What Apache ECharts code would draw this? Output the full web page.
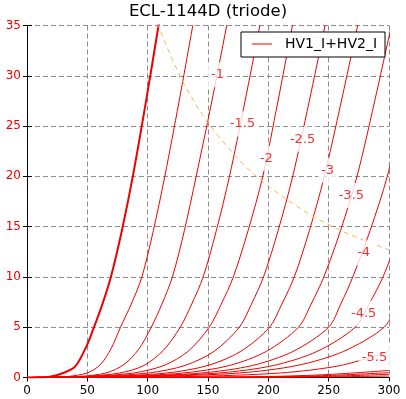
<!DOCTYPE html>
<html>
<head>
<meta charset="UTF-8">
<title>ECL-1144D (triode)</title>
<script src="https://cdn.jsdelivr.net/npm/echarts@6/dist/echarts.min.js"></script>
</head>
<body style="margin:0">
<div id="main" style="width:406px;height:399px;"></div>
<script>
// anode voltage (V), anode current (mA) for each grid voltage
var g0_0 = [[0,0],[10,0.02],[20,0.1],[30,0.45],[40,1.1],[50,3.3],[55.5,5],[62.5,7.3],[69.5,10],[78.6,14.6],[87.7,20],[98.4,27.3],[109,35],[114,38.8]];
var g0_5 = [[0,0],[20,0.03],[33.5,0.1],[50,0.45],[61,1.3],[69.8,2.9],[77.5,5],[86.4,7.3],[95.2,10],[104.7,14.6],[114.2,20],[125.8,27.3],[137.4,35],[143,38.7]];
var g1_0 = [[0,0],[20,0.03],[43,0.1],[65.5,0.45],[80.5,1.3],[92.5,2.8],[103,5],[111.8,7.3],[120.5,10],[130.4,14.6],[140.2,20],[152.9,27.3],[165.5,35],[171,38.5]];
var g1_5 = [[0,0],[20,0.02],[47,0.1],[77,0.45],[97,1.2],[113,2.7],[127,5],[136.5,7.3],[146,10],[156.9,14.6],[167.8,20],[180.4,27.3],[193,35],[199,38.5]];
var g2_0 = [[0,0],[20,0.02],[51,0.1],[88.5,0.45],[113.5,1.2],[133.5,2.6],[151,5],[161,7.3],[171,10],[183.2,14.6],[195.4,20],[207.7,27.3],[220,35],[226,38.5]];
var g2_5 = [[0,0],[20,0.03],[56,0.1],[101,0.45],[131,1.2],[155,2.6],[176,5],[186,7.3],[196,10],[208.1,14.6],[220.2,20],[233.6,27.3],[247,35],[253,38.5]];
var g3_0 = [[0,0],[30,0.04],[65,0.1],[116,0.45],[150,1.2],[177.2,2.6],[201,5],[211.2,7.3],[221.5,10],[234,14.6],[246.4,20],[260.2,27.3],[274,35],[280,38.5]];
var g3_5 = [[0,0],[30,0.04],[73,0.1],[130,0.45],[168,1.2],[198.4,2.6],[225,5],[235.5,7.3],[246,10],[259.8,14.6],[273.5,20],[287.8,27.3],[302,35]];
var g4_0 = [[0,0],[40,0.04],[82,0.1],[145,0.45],[187,1.2],[220.6,2.6],[250,5],[260,7.3],[270,10],[284.3,14.6],[298.6,20],[313,27.3]];
var g4_5 = [[0,0],[40,0.04],[92,0.1],[159.5,0.45],[204.5,1.2],[240.5,2.6],[272,5],[283.5,7.3],[295,10],[310,14.6]];
var g5_0 = [[0,0],[50,0.04],[104,0.1],[176,0.45],[224,1.2],[262.4,2.6],[296,5],[307,7.3]];
var g5_5 = [[0,0],[60,0.03],[135,0.1],[210,0.45],[260,1.2],[300,2.6]];
var g6_0 = [[0,0],[100,0.02],[150,0.04],[200,0.1],[250,0.3],[300,0.7]];
var g6_5 = [[0,0],[150,0.03],[200,0.06],[250,0.2],[300,0.48]];
var g7_0 = [[0,0],[150,0.02],[200,0.04],[250,0.12],[300,0.32]];
var g7_5 = [[0,0],[200,0.02],[250,0.06],[300,0.15]];

// max anode dissipation line
var pmaxVa = [108, 120, 130, 140, 150, 160, 170, 180, 190, 200, 220, 240, 260, 280, 300];
var pmaxIa = [35.2, 31.7, 29.2, 27.1, 25.3, 23.8, 22.4, 21.1, 20, 19, 17.3, 15.8, 14.6, 13.6, 12.7];

// inline grid voltage labels
var labelText = ['-1', '-1.5', '-2', '-2.5', '-3', '-3.5', '-4', '-4.5', '-5.5'];
var labelVa = [157.9, 178.6, 198.4, 228.4, 249, 268.8, 279, 279, 288];
var labelIa = [30.1, 25.2, 21.8, 23.7, 20.6, 18.1, 12.4, 6.4, 2.0];

var curves = [g0_0, g0_5, g1_0, g1_5, g2_0, g2_5, g3_0, g3_5, g4_0, g4_5, g5_0, g5_5, g6_0, g6_5, g7_0, g7_5];

var RED = '#ee0000';
var FONT = 'DejaVu Sans';

var series = curves.map(function (c, i) {
    return {
        name: 'HV1_I+HV2_I',
        type: 'line',
        data: c,
        showSymbol: false,
        smooth: 0.3,
        silent: true,
        itemStyle: {color: RED},
        lineStyle: {color: RED, width: i === 0 ? 2 : 1}
    };
});

series.push({
    name: 'pmax',
    type: 'line',
    data: pmaxVa.map(function (v, i) { return [v, pmaxIa[i]]; }),
    showSymbol: false,
    silent: true,
    lineStyle: {color: '#f6b553', width: 1, type: [5, 4]}
});

series.push({
    name: 'labels',
    type: 'scatter',
    symbolSize: 1,
    itemStyle: {color: 'rgba(0,0,0,0)'},
    silent: true,
    z: 5,
    data: labelText.map(function (t, i) { return {name: t, value: [labelVa[i], labelIa[i]]}; }),
    label: {
        show: true,
        position: 'inside',
        formatter: '{b}',
        color: RED,
        fontSize: 13,
        fontFamily: FONT,
        backgroundColor: '#fff',
        padding: [6, 3]
    }
});

var gridLine = {show: true, lineStyle: {color: '#8c8c8c', type: [5, 3], width: 1}};

var myChart = echarts.init(document.getElementById('main'));
myChart.setOption({
    animation: false,
    grid: {left: 27, right: 17, top: 25.5, bottom: 21.5},
    graphic: [{
        type: 'text',
        style: {
            text: 'ECL-1144D (triode)', x: 208, y: 12,
            align: 'center', verticalAlign: 'middle',
            font: '16.5px "DejaVu Sans"', fill: '#000'
        }
    }],
    legend: {
        data: ['HV1_I+HV2_I'],
        left: 241, top: 32,
        padding: [5, 8, 6, 11],
        backgroundColor: '#fff',
        borderColor: '#000',
        borderWidth: 1,
        icon: 'rect',
        itemWidth: 20,
        itemHeight: 1,
        selectedMode: false,
        textStyle: {fontSize: 14, fontFamily: FONT, color: '#000', padding: [0, 0, 0, 8]}
    },
    xAxis: [{
        type: 'value', min: 0, max: 300, interval: 50,
        axisLine: {lineStyle: {color: '#000', width: 1}},
        axisTick: {show: true, inside: false, length: 4, lineStyle: {color: '#000'}},
        axisLabel: {color: '#000', fontSize: 12, fontFamily: FONT, margin: 7},
        splitLine: gridLine
    }, {
        type: 'value', min: 0, max: 300, interval: 50, position: 'top',
        axisLine: {lineStyle: {color: '#000', width: 1}},
        axisTick: {show: false},
        axisLabel: {show: false},
        splitLine: {show: false}
    }],
    yAxis: [{
        type: 'value', min: 0, max: 35, interval: 5,
        axisLine: {show: true, lineStyle: {color: '#000', width: 1}},
        axisTick: {show: true, inside: false, length: 4, lineStyle: {color: '#000'}},
        axisLabel: {color: RED, fontSize: 12, fontFamily: FONT, margin: 6},
        splitLine: gridLine
    }, {
        type: 'value', min: 0, max: 35, interval: 5, position: 'right',
        axisLine: {show: true, lineStyle: {color: '#000', width: 1}},
        axisTick: {show: true, inside: false, length: 5, lineStyle: {color: '#000'}},
        axisLabel: {show: false},
        splitLine: {show: false}
    }],
    series: series
});
</script>
</body>
</html>
